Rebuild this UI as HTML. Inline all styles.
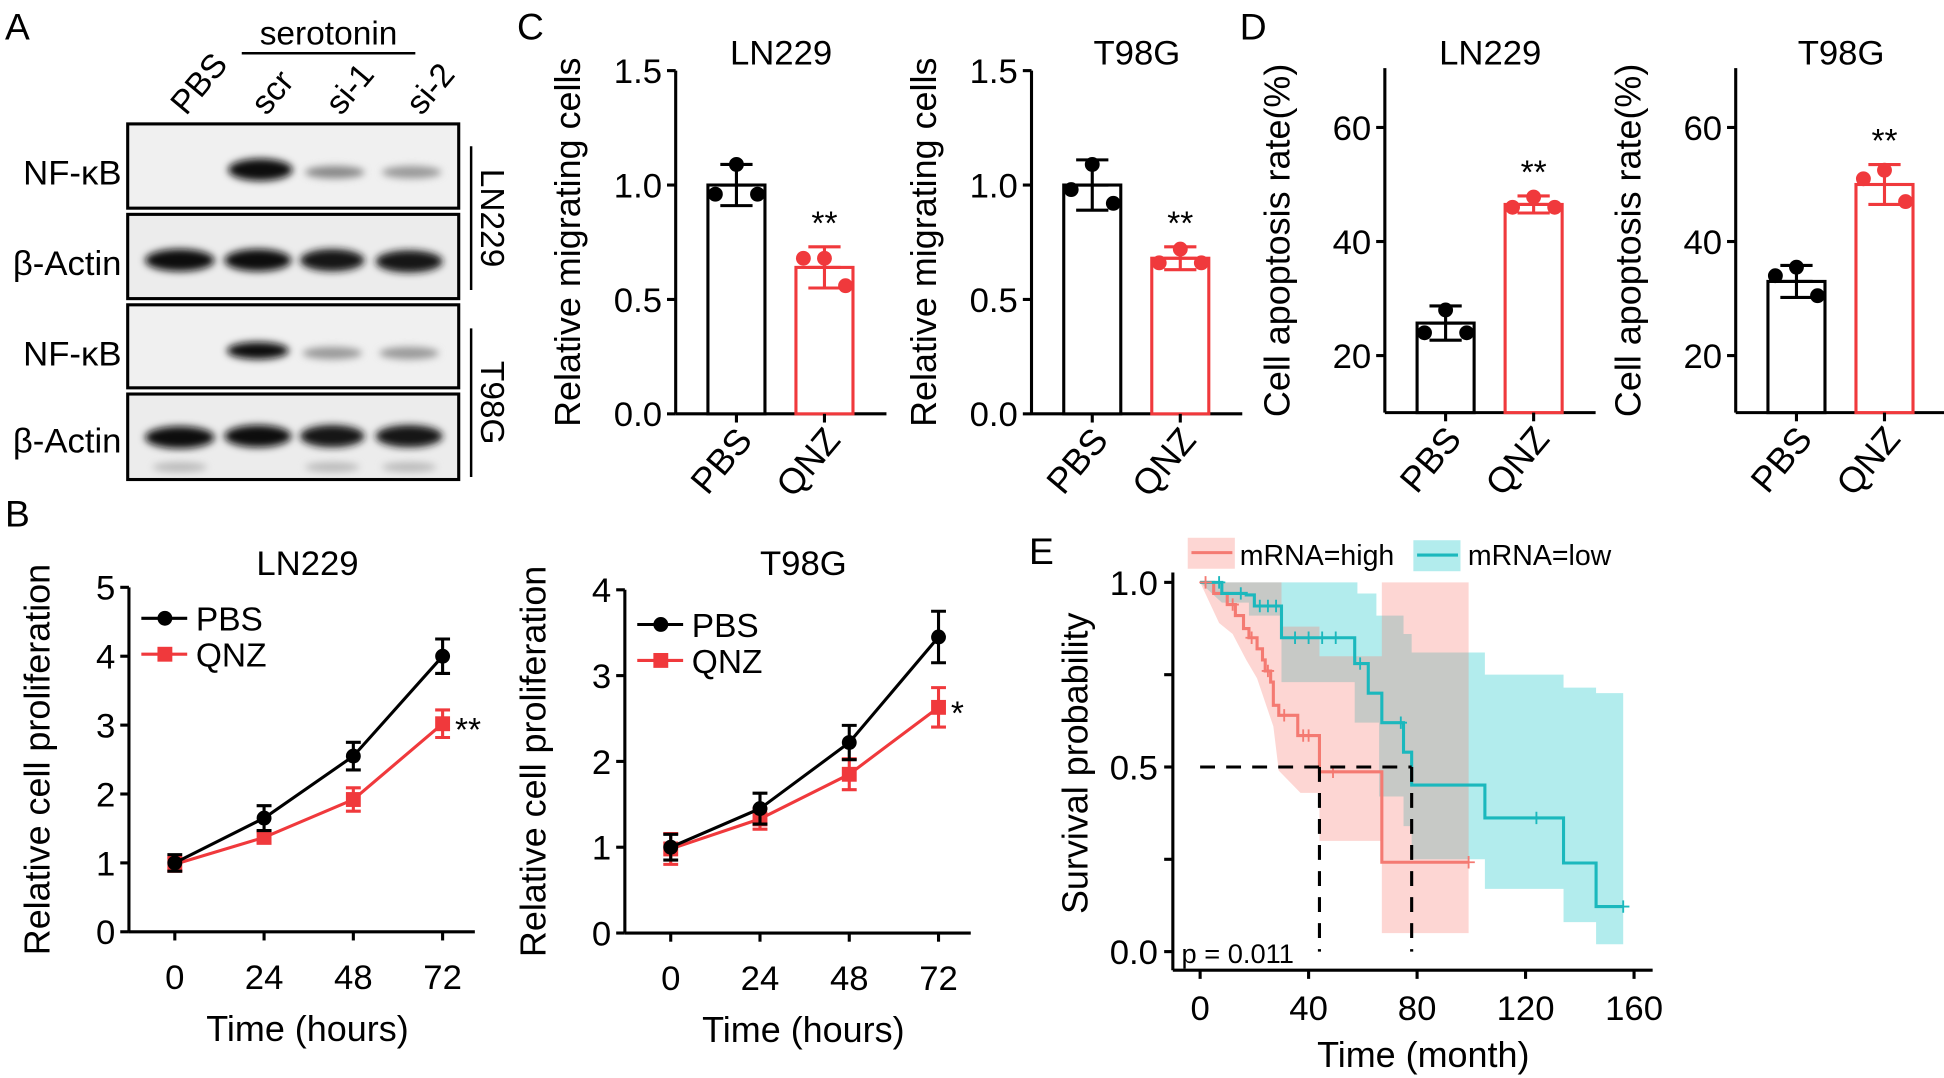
<!DOCTYPE html>
<html><head><meta charset="utf-8"><style>
html,body{margin:0;padding:0;background:#fff}
svg{display:block;font-family:"Liberation Sans",sans-serif}
</style></head><body>
<svg id="fig" width="1944" height="1078" viewBox="0 0 1568 870" preserveAspectRatio="none" xmlns="http://www.w3.org/2000/svg">
<defs><filter id="blur" x="-50%" y="-50%" width="200%" height="200%"><feGaussianBlur stdDeviation="3"/></filter></defs>
<g id="panelA">
<text x="4" y="32" font-size="30">A</text>
<text x="265" y="36" font-size="27" text-anchor="middle">serotonin</text>
<line x1="195" y1="43" x2="335" y2="43" stroke="#000" stroke-width="2"/>
<text transform="translate(150,94) rotate(-50)" font-size="27">PBS</text>
<text transform="translate(215,94) rotate(-50)" font-size="27">scr</text>
<text transform="translate(275,94) rotate(-50)" font-size="27">si-1</text>
<text transform="translate(340,94) rotate(-50)" font-size="27">si-2</text>
<g>
<rect x="103" y="100" width="267" height="68" fill="#f0f0f0" stroke="#000" stroke-width="2.5"/>
<rect x="103" y="173" width="267" height="68" fill="#ececec" stroke="#000" stroke-width="2.5"/>
<rect x="103" y="246" width="267" height="67" fill="#f0f0f0" stroke="#000" stroke-width="2.5"/>
<rect x="103" y="318" width="267" height="69" fill="#ececec" stroke="#000" stroke-width="2.5"/>
<g filter="url(#blur)">
<ellipse cx="210" cy="137" rx="26" ry="9" fill="#111"/><ellipse cx="270" cy="139" rx="24" ry="5" fill="#888"/><ellipse cx="332" cy="139" rx="24" ry="5" fill="#999"/>
<ellipse cx="145" cy="210" rx="28" ry="9" fill="#111"/><ellipse cx="208" cy="210" rx="27" ry="9" fill="#111"/><ellipse cx="268" cy="210" rx="26" ry="9" fill="#151515"/><ellipse cx="330" cy="211" rx="27" ry="9" fill="#151515"/>
<ellipse cx="208" cy="283" rx="25" ry="7" fill="#111"/><ellipse cx="268" cy="285" rx="24" ry="5" fill="#999"/><ellipse cx="330" cy="285" rx="24" ry="5" fill="#999"/>
<ellipse cx="145" cy="353" rx="28" ry="9" fill="#111"/><ellipse cx="208" cy="352" rx="27" ry="9" fill="#111"/><ellipse cx="268" cy="352" rx="26" ry="9" fill="#151515"/><ellipse cx="330" cy="352" rx="27" ry="9" fill="#151515"/>
<ellipse cx="145" cy="377" rx="22" ry="4" fill="#bbb"/><ellipse cx="268" cy="377" rx="22" ry="4" fill="#bbb"/><ellipse cx="330" cy="377" rx="22" ry="4" fill="#bbb"/>
</g></g>
<g font-size="28" text-anchor="end">
<text x="98" y="149">NF-κB</text>
<text x="98" y="222">β-Actin</text>
<text x="98" y="295">NF-κB</text>
<text x="98" y="365">β-Actin</text>
</g>
<line x1="380" y1="118" x2="380" y2="234" stroke="#000" stroke-width="2"/>
<line x1="380" y1="265" x2="380" y2="385" stroke="#000" stroke-width="2"/>
<text transform="translate(388,176) rotate(90)" font-size="27" text-anchor="middle">LN229</text>
<text transform="translate(388,325) rotate(90)" font-size="27" text-anchor="middle">T98G</text>
</g>
<text x="417" y="32" font-size="30">C</text>
<text x="1000" y="32" font-size="30">D</text>
<text x="4" y="425" font-size="30">B</text>
<text x="830" y="455" font-size="30">E</text>
<g id="charts"></g>
</svg>
<script>
// ---- Panel C / D bar data ----
const barCats = ["PBS","QNZ"];
const cLNMeans = [1.0, 0.64];
const cLNErr = [0.09, 0.09];
const cLNDots = [[1.09,0.96,0.96],[0.68,0.68,0.56]];
const cTMeans = [1.0, 0.68];
const cTErr = [0.11, 0.05];
const cTDots = [[1.09,0.98,0.92],[0.72,0.66,0.66]];
const cTicks = [0.0,0.5,1.0,1.5];
const dLNMeans = [25.7, 46.5];
const dLNErr = [3.0, 1.5];
const dLNDots = [[28,24,24],[47.8,46,46]];
const dTMeans = [33, 50];
const dTErr = [2.8, 3.5];
const dTDots = [[35.5,34,30.5],[52.5,51,47]];
const dTicks = [20,40,60];
// ---- Panel B line data ----
const bTimes = [0,24,48,72];
const bLNPbs = [1.0,1.65,2.55,4.0];
const bLNPbsErr = [0.12,0.18,0.2,0.25];
const bLNQnz = [0.98,1.37,1.92,3.02];
const bLNQnzErr = [0.1,0.08,0.17,0.2];
const bTPbs = [1.0,1.45,2.22,3.45];
const bTPbsErr = [0.15,0.18,0.2,0.3];
const bTQnz = [0.98,1.33,1.85,2.63];
const bTQnzErr = [0.18,0.12,0.18,0.23];
const bLNTicks = [0,1,2,3,4,5];
const bTTicks = [0,1,2,3,4];
// ---- Panel E KM data [month, prob] ----
const kmHigh = [[0,1],[5,1],[5,0.97],[10,0.97],[10,0.94],[13,0.94],[13,0.91],[16,0.91],[16,0.875],[18,0.875],[18,0.85],[21,0.85],[21,0.82],[23,0.82],[23,0.79],[24,0.79],[24,0.76],[26,0.76],[26,0.73],[27,0.73],[27,0.667],[29,0.667],[29,0.64],[36,0.64],[36,0.585],[44,0.585],[44,0.487],[67,0.487],[67,0.242],[99,0.242]];
const kmLow = [[0,1],[8,1],[8,0.97],[17,0.97],[17,0.966],[20,0.966],[20,0.936],[30,0.936],[30,0.85],[57,0.85],[57,0.78],[62,0.78],[62,0.70],[67,0.70],[67,0.62],[75,0.62],[75,0.54],[78,0.54],[78,0.451],[105,0.451],[105,0.362],[134,0.362],[134,0.24],[146,0.24],[146,0.122],[156,0.122]];
const bandHighUpper = [[0,1],[30,1],[30,0.88],[44,0.88],[44,0.8],[67,0.8],[67,1],[99,1]];
const bandHighLower = [[0,1],[7,0.89],[12,0.86],[17,0.79],[21,0.74],[27,0.61],[29,0.49],[37,0.43],[44,0.43],[44,0.30],[67,0.30],[67,0.05],[99,0.05]];
const bandLowUpper = [[0,1],[58,1],[58,0.97],[65,0.97],[65,0.91],[75,0.91],[75,0.86],[78,0.86],[78,0.81],[105,0.81],[105,0.75],[134,0.75],[134,0.715],[146,0.715],[146,0.70],[156,0.70]];
const bandLowLower = [[0,1],[8,0.945],[18,0.945],[18,0.91],[30,0.91],[30,0.73],[57,0.73],[57,0.62],[66,0.62],[66,0.42],[75,0.42],[75,0.34],[78,0.34],[78,0.25],[105,0.25],[105,0.17],[134,0.17],[134,0.08],[146,0.08],[146,0.02],[156,0.02]];
const censHigh = [[2,1],[12,0.94],[19,0.85],[25,0.76],[31,0.64],[38,0.585],[40,0.585],[49,0.487],[99,0.242]];
const censLow = [[7,1],[15,0.97],[22,0.936],[25,0.936],[28,0.936],[35,0.85],[40,0.85],[45,0.85],[50,0.85],[59,0.78],[74,0.62],[124,0.362],[156,0.122]];
const kmXTicks = [0,40,80,120,160];
const kmYTicks = [0.0,0.5,1.0];

const NS="http://www.w3.org/2000/svg";
const root=document.getElementById('charts');
function el(tag,attrs,parent){const e=document.createElementNS(NS,tag);for(const k in attrs)e.setAttribute(k,attrs[k]);(parent||root).appendChild(e);return e;}
function txt(s,attrs,parent){const e=el('text',attrs,parent);e.textContent=s;return e;}
const RED="#f0393c";

function barChart(name,ax,yTop,yBot,vmin,vmax,ticks,means,errs,dots,title,ylab,star){
  const g=el('g',{});
  
  
  const Y=v=>yBot-(v-vmin)/(vmax-vmin)*(yBot-yTop);
  const X=i=>ax+49+i*71;
  el('line',{x1:ax,y1:yTop,x2:ax,y2:yBot,stroke:'#000','stroke-width':2.5},g);
  el('line',{x1:ax,y1:yBot,x2:ax+170,y2:yBot,stroke:'#000','stroke-width':2.5},g);
  ticks.forEach(t=>{el('line',{x1:ax-7,y1:Y(t),x2:ax,y2:Y(t),stroke:'#000','stroke-width':2.5},g);
    const l=txt(vmax<5?t.toFixed(1):String(t),{x:ax-11,y:Y(t)+10,'font-size':28,'text-anchor':'end'},g);
    
    });
  const tt=txt(title,{x:ax+85,y:52,'font-size':28,'text-anchor':'middle'},g);
  
  
  const yl=txt(ylab,{transform:`translate(${ax-77},${(yTop+yBot)/2}) rotate(-90)`,'font-size':29,'text-anchor':'middle'},g);
  
  
  means.forEach((m,i)=>{
    const c=i?RED:'#000', x=X(i);
    const b=el('rect',{x:x-23,y:Y(m),width:46,height:yBot-Y(m),fill:'#fff',stroke:c,'stroke-width':2.5},g);
    
    
    el('line',{x1:x,y1:yBot,x2:x,y2:yBot+7,stroke:'#000','stroke-width':2.5},g);
    const e=errs[i];
    el('path',{d:`M${x},${Y(m+e)}V${Y(m-e)}M${x-13},${Y(m+e)}H${x+13}M${x-13},${Y(m-e)}H${x+13}M${x-13},${Y(m)}H${x+13}`,stroke:c,'stroke-width':2.5,fill:'none'},g);
    const offs=[0,-17,17];
    dots[i].forEach((v,j)=>{const d=el('circle',{cx:x+offs[j],cy:Y(v),r:6,fill:c},g);
      
      });
    const xl=txt(barCats[i],{transform:`translate(${x+14},${yBot+22}) rotate(-50)`,'font-size':29,'text-anchor':'end'},g);
    
    
  });
  const s=txt('**',{x:X(1),y:Y(means[1]+errs[1])-10,'font-size':27,'text-anchor':'middle'},g);
  
  
}
barChart('bar-chart-c-ln229',545,57,334,0,1.5,cTicks,cLNMeans,cLNErr,cLNDots,'LN229','Relative migrating cells');
barChart('bar-chart-c-t98g',832,57,334,0,1.5,cTicks,cTMeans,cTErr,cTDots,'T98G','Relative migrating cells');
barChart('bar-chart-d-ln229',1117,55,333,10,70.4,dTicks,dLNMeans,dLNErr,dLNDots,'LN229','Cell apoptosis rate(%)');
barChart('bar-chart-d-t98g',1400,55,333,10,70.4,dTicks,dTMeans,dTErr,dTDots,'T98G','Cell apoptosis rate(%)');

function lineChart(name,ax,yTop,yBot,vmax,ticks,x0,pbs,pbsE,qnz,qnzE,title,star,legY){
  const g=el('g',{});
  
  
  const Y=v=>yBot-v/vmax*(yBot-yTop);
  const X=t=>x0+t*3;
  el('line',{x1:ax,y1:yTop,x2:ax,y2:yBot,stroke:'#000','stroke-width':2.5},g);
  el('line',{x1:ax,y1:yBot,x2:ax+279,y2:yBot,stroke:'#000','stroke-width':2.5},g);
  ticks.forEach(t=>{el('line',{x1:ax-7,y1:Y(t),x2:ax,y2:Y(t),stroke:'#000','stroke-width':2.5},g);
    const l=txt(String(t),{x:ax-11,y:Y(t)+10,'font-size':28,'text-anchor':'end'},g);
    
    });
  bTimes.forEach(t=>{el('line',{x1:X(t),y1:yBot,x2:X(t),y2:yBot+7,stroke:'#000','stroke-width':2.5},g);
    const l=txt(String(t),{x:X(t),y:yBot+46,'font-size':28,'text-anchor':'middle'},g);
    
    });
  const xt=txt('Time (hours)',{x:ax+144,y:yBot+88,'font-size':29,'text-anchor':'middle'},g);
  
  
  const tt=txt(title,{x:ax+144,y:464,'font-size':28,'text-anchor':'middle'},g);
  
  
  const yl=txt('Relative cell proliferation',{transform:`translate(${ax-64},${(yTop+yBot)/2}) rotate(-90)`,'font-size':29,'text-anchor':'middle'},g);
  
  
  [[qnz,qnzE,RED,'square'],[pbs,pbsE,'#000','circle']].forEach(([vals,errs,c,shape])=>{
    const p=el('path',{d:vals.map((v,i)=>(i?'L':'M')+X(bTimes[i])+','+Y(v)).join(''),stroke:c,'stroke-width':2.5,fill:'none'},g);
    
    
    vals.forEach((v,i)=>{const x=X(bTimes[i]),e=errs[i];
      el('path',{d:`M${x},${Y(v+e)}V${Y(v-e)}M${x-6},${Y(v+e)}H${x+6}M${x-6},${Y(v-e)}H${x+6}`,stroke:c,'stroke-width':2.5},g);
      const m=shape==='circle'?el('circle',{cx:x,cy:Y(v),r:6,fill:c},g):el('rect',{x:x-6,y:Y(v)-6,width:12,height:12,fill:c},g);
      
      });
  });
  const s=txt(star,{x:X(72)+10,y:Y(qnz[3])+14,'font-size':27},g);
  
  
  const lx=ax+10;
  el('line',{x1:lx,y1:legY,x2:lx+37,y2:legY,stroke:'#000','stroke-width':2.5},g);
  el('circle',{cx:lx+19,cy:legY,r:6,fill:'#000'},g);
  el('line',{x1:lx,y1:legY+29,x2:lx+37,y2:legY+29,stroke:RED,'stroke-width':2.5},g);
  el('rect',{x:lx+13,y:legY+23,width:12,height:12,fill:RED},g);
  const l1=txt('PBS',{x:lx+44,y:legY+10,'font-size':27},g);
  
  
  const l2=txt('QNZ',{x:lx+44,y:legY+39,'font-size':27},g);
  
  
}
lineChart('line-chart-b-ln229',104,474,752,5,bLNTicks,141,bLNPbs,bLNPbsErr,bLNQnz,bLNQnzErr,'LN229','**',499);
lineChart('line-chart-b-t98g',504,476,753,4,bTTicks,541,bTPbs,bTPbsErr,bTQnz,bTQnzErr,'T98G','*',504);

// KM plot
(function(){
  const g=el('g',{});
  
  
  const X=m=>968+m*2.1875, Y=p=>768-p*298;
  const TEAL="#1bb8bd", SAL="#f47a72";
  function band(up,lo,fill){const pts=up.map(p=>X(p[0])+','+Y(p[1])).concat(lo.slice().reverse().map(p=>X(p[0])+','+Y(p[1])));
    const b=el('polygon',{points:pts.join(' '),fill:fill,'fill-opacity':0.3},g);
    
    }
  band(bandLowUpper,bandLowLower,'#00bfc4');
  band(bandHighUpper,bandHighLower,'#f8766d');
  const pl=(d,c,n)=>{const p=el('path',{d:d.map((q,i)=>(i?'L':'M')+X(q[0])+','+Y(q[1])).join(''),stroke:c,'stroke-width':2.5,fill:'none'},g);
    
    };
  pl(kmHigh,SAL,'curve-mrna-high');pl(kmLow,TEAL,'curve-mrna-low');
  censHigh.forEach(q=>el('path',{d:`M${X(q[0])-5},${Y(q[1])}H${X(q[0])+5}M${X(q[0])},${Y(q[1])-5}V${Y(q[1])+5}`,stroke:SAL,'stroke-width':1.5},g));
  censLow.forEach(q=>el('path',{d:`M${X(q[0])-5},${Y(q[1])}H${X(q[0])+5}M${X(q[0])},${Y(q[1])-5}V${Y(q[1])+5}`,stroke:TEAL,'stroke-width':1.5},g));
  el('path',{d:`M${X(0)},${Y(0.5)}H${X(78)}M${X(44)},${Y(0.5)}V${Y(0)}M${X(78)},${Y(0.5)}V${Y(0)}`,stroke:'#000','stroke-width':2.5,'stroke-dasharray':'12,9',fill:'none'},g);
  el('line',{x1:946,y1:462,x2:946,y2:783,stroke:'#000','stroke-width':2.5},g);
  el('line',{x1:946,y1:783,x2:1333,y2:783,stroke:'#000','stroke-width':2.5},g);
  kmYTicks.forEach(t=>{el('line',{x1:939,y1:Y(t),x2:946,y2:Y(t),stroke:'#000','stroke-width':2.5},g);
    const l=txt(t.toFixed(1),{x:934,y:Y(t)+10,'font-size':28,'text-anchor':'end'},g);
    
    });
  [0.25,0.75].forEach(t=>el('line',{x1:939,y1:Y(t),x2:946,y2:Y(t),stroke:'#000','stroke-width':2.5},g));
  kmXTicks.forEach(t=>{el('line',{x1:X(t),y1:783,x2:X(t),y2:790,stroke:'#000','stroke-width':2.5},g);
    const l=txt(String(t),{x:X(t),y:823,'font-size':28,'text-anchor':'middle'},g);
    
    });
  const xt=txt('Time (month)',{x:1148,y:861,'font-size':29,'text-anchor':'middle'},g);
  
  
  const yl=txt('Survival probability',{transform:'translate(877,616) rotate(-90)','font-size':29,'text-anchor':'middle'},g);
  
  
  const pv=txt('p = 0.011',{x:953,y:777,'font-size':22},g);
  
  
  el('rect',{x:958,y:434,width:38,height:25,fill:'#f8766d','fill-opacity':0.3},g);
  el('line',{x1:961,y1:446,x2:994,y2:446,stroke:SAL,'stroke-width':2.5},g);
  el('rect',{x:1140,y:436,width:38,height:25,fill:'#00bfc4','fill-opacity':0.3},g);
  el('line',{x1:1143,y1:448,x2:1176,y2:448,stroke:TEAL,'stroke-width':2.5},g);
  const a=txt('mRNA=high',{x:1000,y:456,'font-size':23},g);
  
  
  const b=txt('mRNA=low',{x:1184,y:456,'font-size':23},g);
  
  
})();
</script>
</body></html>
